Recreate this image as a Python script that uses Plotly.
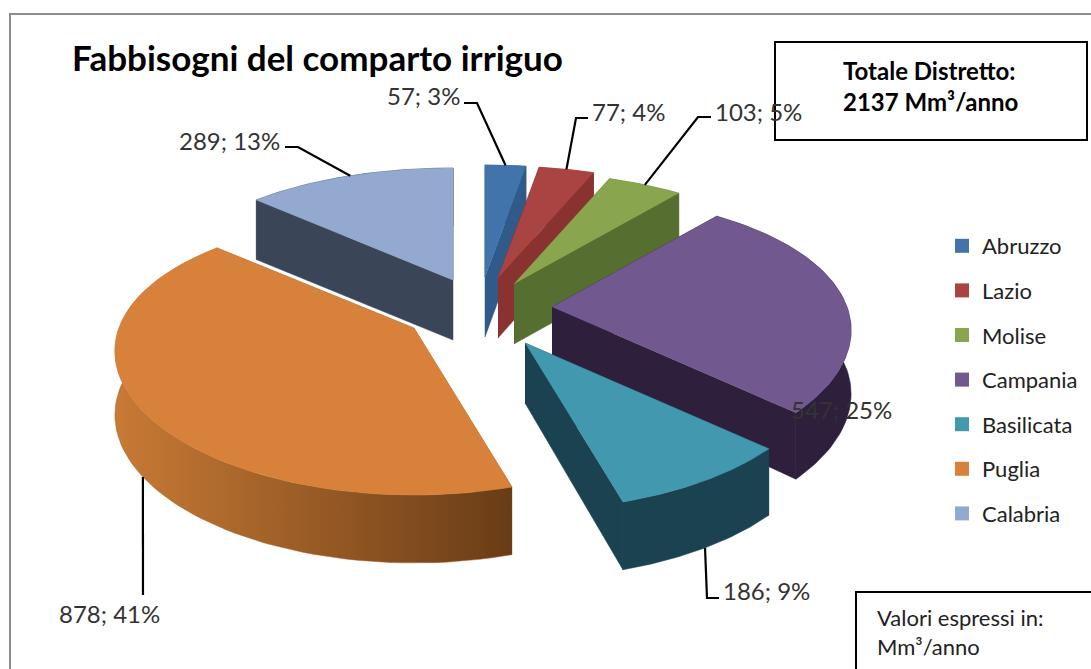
"""Fabbisogni del comparto irriguo: exploded perspective pie drawn on pixel-like axes."""
import numpy as np
import plotly.graph_objects as go

# ───────── data ─────────
REGIONS = ["Abruzzo", "Lazio", "Molise", "Campania", "Basilicata", "Puglia", "Calabria"]
VALUES = [57, 77, 103, 547, 186, 878, 289]
PERCENTS = [3, 4, 5, 25, 9, 41, 13]

# ───────── styling ─────────
TOP_COLORS = ["#4174aa", "#aa4442", "#89a54e", "#71588f", "#4198af", "#d8813a", "#93a9cf"]
WALL_COLORS = ["#2f5a8a", "#8a3230", "#566f31", "#2e1f3d", "#1b4250", "#a8642c", "#3a4558"]
FONT = "Lato"

# where each exploded slice has its tip, in the 1091x669 frame
TIPS = [(485, 277), (498, 278), (514, 284), (552, 307), (525, 343), (414, 328), (453, 280)]
DRAW_ORDER = [6, 0, 1, 2, 3, 4, 5]
LABEL_POS = [(423, 95), (628, 111), (758, 111), (841, 409), (766, 590), (109, 613), (229, 140)]
# elbow points of the leader lines; None means no leader
ELBOWS = [
    [(464, 103), (477, 103)],
    [(588, 118), (576, 118)],
    [(711, 117), (698, 117)],
    None,
    [(719, 598), (707, 598)],
    [(143, 595)],
    [(285, 147), (298, 147)],
]
FRONT_LEADER = [False, False, False, False, True, True, False]


def project(tip, theta):
    """Screen position of a rim point: back of the disc is narrower than the front."""
    t = (1 - np.cos(theta)) / 2
    return tip[0] + (245 + 100 * t) * np.sin(theta), tip[1] - (112 + 55 * t) * np.cos(theta)


def rim_depth(theta):
    return 58 + 10 * (1 - np.cos(theta)) / 2


def polygon(xs, ys, color, **kw):
    return go.Scatter(
        x=list(xs), y=list(ys), mode="lines", fill="toself", fillcolor=color,
        line=dict(width=0.5, color=color), hoverinfo="skip", showlegend=False, **kw,
    )


edges = np.concatenate([[0], np.cumsum(VALUES)]) / sum(VALUES) * 2 * np.pi
fig = go.Figure()

# ── Slices, back to front ──
for i in DRAW_ORDER:
    tip = TIPS[i]
    theta = np.linspace(edges[i], edges[i + 1], 80)
    rx, ry = project(tip, theta)
    depth = rim_depth(theta)

    for j in (0, -1):  # the two radial cuts
        fig.add_trace(polygon(
            [tip[0], rx[j], rx[j], tip[0]],
            [tip[1], ry[j], ry[j] + depth[j], tip[1] + 60],
            WALL_COLORS[i],
        ))
    wall_x = np.concatenate([rx, rx[::-1]])
    wall_y = np.concatenate([ry, (ry + depth)[::-1]])
    if REGIONS[i] == "Puglia":
        fig.add_trace(polygon(
            wall_x, wall_y, WALL_COLORS[i],
            fillgradient=dict(type="horizontal", colorscale=[[0, "#c87a35"], [1, "#693c16"]]),
        ))
    else:
        fig.add_trace(polygon(wall_x, wall_y, WALL_COLORS[i]))
    fig.add_trace(polygon(
        np.concatenate([[tip[0]], rx]), np.concatenate([[tip[1]], ry]), TOP_COLORS[i],
    ))

# ── Leader lines, ending on the middle of each slice's rim ──
for i, elbow in enumerate(ELBOWS):
    if elbow is None:
        continue
    mid = (edges[i] + edges[i + 1]) / 2
    ax, ay = project(TIPS[i], mid)
    if FRONT_LEADER[i]:
        ay += rim_depth(mid)
    fig.add_trace(go.Scatter(
        x=[p[0] for p in elbow] + [ax], y=[p[1] for p in elbow] + [ay],
        mode="lines", line=dict(color="black", width=2.2),
        hoverinfo="skip", showlegend=False,
    ))

# ── Legend entries ──
for name, color in zip(REGIONS, TOP_COLORS):
    fig.add_trace(go.Scatter(
        x=[None], y=[None], mode="markers", name=name, legendgroup=name,
        marker=dict(symbol="square", size=14, color=color),
    ))

# ── Data labels ──
for value, pct, (lx, ly) in zip(VALUES, PERCENTS, LABEL_POS):
    fig.add_annotation(
        x=lx, y=ly, text=f"{value}; {pct}%", showarrow=False,
        font=dict(family=FONT, size=24, color="#333333"),
    )

# ── Text boxes ──
fig.add_annotation(
    x=841, y=86, xanchor="left", align="left", showarrow=False,
    text="<b>Totale Distretto:<br>2137 Mm³/anno</b>",
    font=dict(family=FONT, size=24, color="black"),
)
fig.add_annotation(
    x=875, y=632, xanchor="left", align="left", showarrow=False,
    text="Valori espressi in:<br>Mm³/anno",
    font=dict(family=FONT, size=22, color="#222222"),
)

shapes = [
    dict(type="rect", x0=10, y0=14, x1=1120, y1=700, line=dict(color="#8c8c8c", width=2)),
    dict(type="rect", x0=775, y0=42, x1=1087, y1=140, line=dict(color="black", width=2)),
    dict(type="rect", x0=856, y0=592, x1=1120, y1=700, line=dict(color="black", width=2)),
]

# ── Layout ──
fig.update_layout(
    width=1091, height=669,
    margin=dict(l=0, r=0, t=0, b=0),
    paper_bgcolor="white", plot_bgcolor="white",
    title=dict(
        text="<b>Fabbisogni del comparto irriguo</b>",
        x=72 / 1091, xanchor="left", xref="paper",
        y=1 - 59 / 669, yanchor="middle", yref="paper",
        font=dict(family=FONT, size=35, color="black"),
    ),
    xaxis=dict(range=[0, 1091], visible=False, fixedrange=True),
    yaxis=dict(range=[669, 0], visible=False, fixedrange=True),
    shapes=shapes,
    legend=dict(
        x=942 / 1091, xanchor="left", y=1 - 225 / 669, yanchor="top",
        font=dict(family=FONT, size=22, color="#222222"),
        tracegroupgap=13, bgcolor="rgba(0,0,0,0)",
    ),
)

fig.write_html(
    "out.html",
    config=dict(displayModeBar=False),
    post_script="document.body.style.margin = '0';",
)
